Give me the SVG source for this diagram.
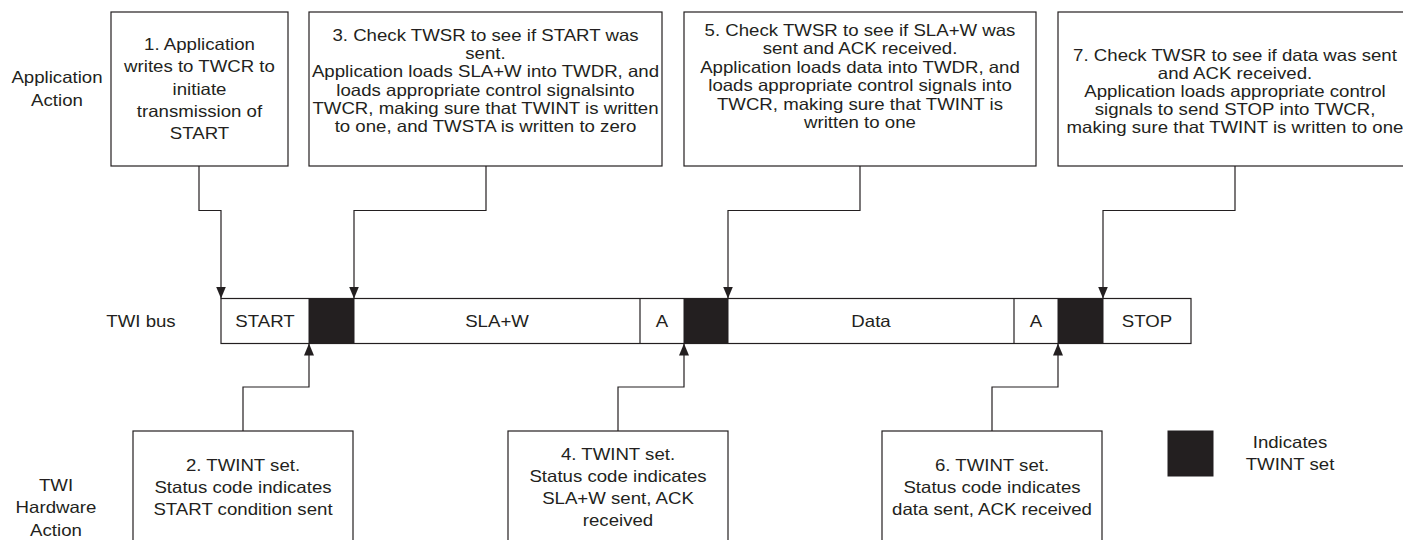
<svg xmlns="http://www.w3.org/2000/svg" width="1403" height="540" viewBox="0 0 1403 540">
<style>
.bg{fill:#fff}
.box{fill:#fff;stroke:#231f20;stroke-width:1.2}
.t{font-family:"Liberation Sans",Arial,Helvetica,sans-serif;font-size:16.5px;fill:#231f20;text-anchor:middle}
.conn{fill:none;stroke:#231f20;stroke-width:1.2}
.bus{fill:#fff;stroke:#231f20;stroke-width:1.2}
.blk{fill:#231f20;stroke:#231f20;stroke-width:1}
.div{stroke:#231f20;stroke-width:1.2}
</style>
<defs>
<marker id="ah" markerUnits="userSpaceOnUse" markerWidth="12" markerHeight="10" viewBox="0 0 12 10" refX="12" refY="5" orient="auto">
<path d="M0,0 L12,5 L0,10 z" fill="#231f20"/>
</marker>
</defs>
<rect class="bg" x="0" y="0" width="1403" height="540"/>

<g id="lane-labels">
<text class="t" transform="translate(57,0) scale(1.13,1)"><tspan x="0" y="83">Application</tspan><tspan x="0" y="106">Action</tspan></text>
<text class="t" transform="translate(141,0) scale(1.13,1)"><tspan x="0" y="327">TWI bus</tspan></text>
<text class="t" transform="translate(56,0) scale(1.13,1)"><tspan x="0" y="491">TWI</tspan><tspan x="0" y="513.5">Hardware</tspan><tspan x="0" y="536">Action</tspan></text>
</g>

<g id="step1">
<rect class="box" x="111" y="12" width="177" height="154"/>
<text class="t" transform="translate(199.5,0) scale(1.13,1)"><tspan x="0" y="50">1. Application</tspan><tspan x="0" y="72.3">writes to TWCR to</tspan><tspan x="0" y="94.6">initiate</tspan><tspan x="0" y="116.9">transmission of</tspan><tspan x="0" y="139.2">START</tspan></text>
</g>

<g id="step3">
<rect class="box" x="309" y="12" width="353" height="154"/>
<text class="t" transform="translate(485.5,0) scale(1.13,1)"><tspan x="0" y="41">3. Check TWSR to see if START was</tspan><tspan x="0" y="59">sent.</tspan><tspan x="0" y="77.5">Application loads SLA+W into TWDR, and</tspan><tspan x="0" y="96">loads appropriate control signalsinto</tspan><tspan x="0" y="114">TWCR, making sure that TWINT is written</tspan><tspan x="0" y="132">to one, and TWSTA is written to zero</tspan></text>
</g>

<g id="step5">
<rect class="box" x="684" y="12" width="352" height="154"/>
<text class="t" transform="translate(860,0) scale(1.13,1)"><tspan x="0" y="36">5. Check TWSR to see if SLA+W was</tspan><tspan x="0" y="54.5">sent and ACK received.</tspan><tspan x="0" y="73">Application loads data into TWDR, and</tspan><tspan x="0" y="91.5">loads appropriate control signals into</tspan><tspan x="0" y="110">TWCR, making sure that TWINT is</tspan><tspan x="0" y="128.5">written to one</tspan></text>
</g>

<g id="step7">
<rect class="box" x="1058" y="12" width="354" height="154"/>
<text class="t" transform="translate(1235,0) scale(1.13,1)"><tspan x="0" y="61">7. Check TWSR to see if data was sent</tspan><tspan x="0" y="79">and ACK received.</tspan><tspan x="0" y="97">Application loads appropriate control</tspan><tspan x="0" y="115">signals to send STOP into TWCR,</tspan><tspan x="0" y="133">making sure that TWINT is written to one</tspan></text>
</g>

<g id="twi-bus">
<rect class="bus" x="221" y="298.5" width="970" height="45"/>
<rect class="blk" x="309" y="298.5" width="45" height="45"/>
<rect class="blk" x="684" y="298.5" width="44" height="45"/>
<rect class="blk" x="1058" y="298.5" width="45" height="45"/>
<line class="div" x1="640" y1="298.5" x2="640" y2="343.5"/>
<line class="div" x1="1014" y1="298.5" x2="1014" y2="343.5"/>
<text class="t" transform="translate(265,0) scale(1.13,1)"><tspan x="0" y="327">START</tspan></text>
<text class="t" transform="translate(497,0) scale(1.13,1)"><tspan x="0" y="327">SLA+W</tspan></text>
<text class="t" transform="translate(662,0) scale(1.13,1)"><tspan x="0" y="327">A</tspan></text>
<text class="t" transform="translate(871,0) scale(1.13,1)"><tspan x="0" y="327">Data</tspan></text>
<text class="t" transform="translate(1036,0) scale(1.13,1)"><tspan x="0" y="327">A</tspan></text>
<text class="t" transform="translate(1147,0) scale(1.13,1)"><tspan x="0" y="327">STOP</tspan></text>
</g>

<g id="step2">
<rect class="box" x="133" y="431" width="220" height="130"/>
<text class="t" transform="translate(243,0) scale(1.13,1)"><tspan x="0" y="471">2. TWINT set.</tspan><tspan x="0" y="493">Status code indicates</tspan><tspan x="0" y="515">START condition sent</tspan></text>
</g>

<g id="step4">
<rect class="box" x="508" y="431" width="220" height="130"/>
<text class="t" transform="translate(618,0) scale(1.13,1)"><tspan x="0" y="460">4. TWINT set.</tspan><tspan x="0" y="482">Status code indicates</tspan><tspan x="0" y="504">SLA+W sent, ACK</tspan><tspan x="0" y="526">received</tspan></text>
</g>

<g id="step6">
<rect class="box" x="882" y="431" width="220" height="130"/>
<text class="t" transform="translate(992,0) scale(1.13,1)"><tspan x="0" y="471">6. TWINT set.</tspan><tspan x="0" y="493">Status code indicates</tspan><tspan x="0" y="515">data sent, ACK received</tspan></text>
</g>

<g id="legend">
<rect class="blk" x="1168" y="431" width="45" height="45"/>
<text class="t" transform="translate(1290,0) scale(1.13,1)"><tspan x="0" y="448">Indicates</tspan><tspan x="0" y="470">TWINT set</tspan></text>
</g>

<g id="connectors">
<path class="conn" d="M199,166 V210.5 H221 V298.5" marker-end="url(#ah)"/>
<path class="conn" d="M486,166 V210.5 H354 V298.5" marker-end="url(#ah)"/>
<path class="conn" d="M860,166 V210.5 H728 V298.5" marker-end="url(#ah)"/>
<path class="conn" d="M1235,166 V210.5 H1103 V298.5" marker-end="url(#ah)"/>
<path class="conn" d="M243,431 V387 H309 V343.5" marker-end="url(#ah)"/>
<path class="conn" d="M618,431 V387 H684 V343.5" marker-end="url(#ah)"/>
<path class="conn" d="M992,431 V387 H1058 V343.5" marker-end="url(#ah)"/>
</g>
</svg>
